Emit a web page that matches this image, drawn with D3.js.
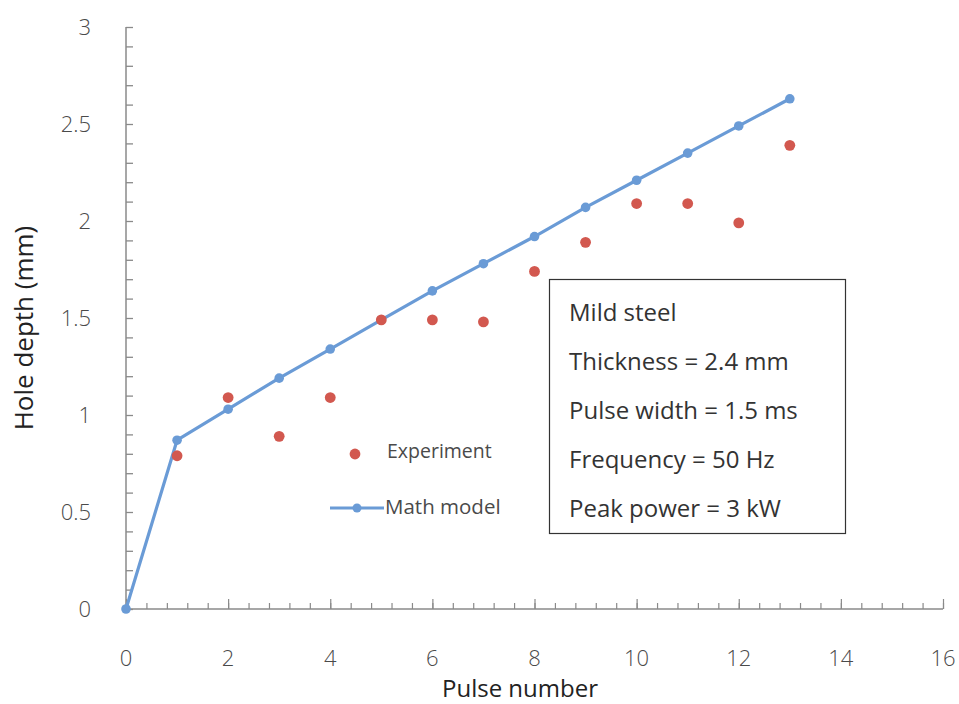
<!DOCTYPE html>
<html>
<head>
<meta charset="utf-8">
<script src="https://cdn.jsdelivr.net/npm/d3@7"></script>
<style>
  html, body { margin: 0; padding: 0; background: #fff; }
  svg { display: block; }
  text { font-family: "Open Sans", "Noto Sans", sans-serif; }
</style>
</head>
<body>
<svg id="chart" width="959" height="704"></svg>
<script>
// Pulse number vs. hole depth (mm)
const pulses      = [0, 1, 2, 3, 4, 5, 6, 7, 8, 9, 10, 11, 12, 13];
const modelDepth  = [0, 0.87, 1.03, 1.19, 1.34, 1.49, 1.64, 1.78, 1.92, 2.07, 2.21, 2.35, 2.49, 2.63];
const expPulses   = [1, 2, 3, 4, 5, 6, 7, 8, 9, 10, 11, 12, 13];
const expDepth    = [0.79, 1.09, 0.89, 1.09, 1.49, 1.49, 1.48, 1.74, 1.89, 2.09, 2.09, 1.99, 2.39];
const xTickValues = [0, 2, 4, 6, 8, 10, 12, 14, 16];
const yTickValues = [0, 0.5, 1, 1.5, 2, 2.5, 3];
const infoLines   = ["Mild steel", "Thickness = 2.4 mm", "Pulse width = 1.5 ms", "Frequency = 50 Hz", "Peak power = 3 kW"];
const legendNames = ["Experiment", "Math model"];

const svg = d3.select("#chart");
const plotLeft = 126, plotRight = 943, plotTop = 27, plotBottom = 609;

const x = d3.scaleLinear().domain([0, 16]).range([plotLeft, plotRight]);
const y = d3.scaleLinear().domain([0, 3]).range([plotBottom, plotTop]);

const axisColor = "#8a8a8a";
const labelColor = "#4a4a4a";
const blue = "#6a9bd6";
const red = "#d2584f";

// Y axis: line with inward minor ticks every 0.1
const yAxis = d3.axisRight(y)
  .tickValues(d3.range(0, 3.0001, 0.1))
  .tickSize(7)
  .tickFormat("");
const gy = svg.append("g").attr("transform", `translate(${plotLeft},0)`).call(yAxis);
gy.select(".domain").attr("stroke", axisColor).attr("stroke-width", 1.5).attr("d", `M0,${plotTop}V${plotBottom}`);
gy.selectAll(".tick line").attr("stroke", axisColor).attr("stroke-width", 1.3);

// Y tick labels
svg.append("g").selectAll("text").data(yTickValues).join("text")
  .attr("x", 91).attr("y", d => y(d)).attr("dy", "0.35em")
  .attr("text-anchor", "end").attr("font-size", 22).attr("font-weight", 300).attr("fill", labelColor)
  .text(d => d3.format("")(d));

// X axis: upward ticks, minor every 0.4, major every 2
const xMinor = d3.axisTop(x).tickValues(d3.range(0, 16.0001, 0.4)).tickSize(6).tickFormat("");
const gxm = svg.append("g").attr("transform", `translate(0,${plotBottom})`).call(xMinor);
gxm.select(".domain").attr("stroke", axisColor).attr("stroke-width", 1.5).attr("d", `M${plotLeft},0H${plotRight}`);
gxm.selectAll(".tick line").attr("stroke", axisColor).attr("stroke-width", 1.2);

const xMajor = d3.axisTop(x).tickValues(xTickValues).tickSize(10).tickFormat("");
const gxM = svg.append("g").attr("transform", `translate(0,${plotBottom})`).call(xMajor);
gxM.select(".domain").remove();
gxM.selectAll(".tick line").attr("stroke", axisColor).attr("stroke-width", 1.2);

// X tick labels
svg.append("g").selectAll("text").data(xTickValues).join("text")
  .attr("x", d => x(d)).attr("y", 666)
  .attr("text-anchor", "middle").attr("font-size", 22).attr("font-weight", 300).attr("fill", labelColor)
  .text(d => d);

// Axis titles
svg.append("text")
  .attr("transform", `translate(33,${(plotTop + plotBottom) / 2 + 10}) rotate(-90)`)
  .attr("text-anchor", "middle").attr("font-size", 26).attr("fill", "#222")
  .text("Hole depth (mm)");
svg.append("text")
  .attr("x", 520).attr("y", 697)
  .attr("text-anchor", "middle").attr("font-size", 24).attr("fill", "#222")
  .text("Pulse number");

// Math model line
const model = pulses.map((p, i) => ({ p, v: modelDepth[i] }));
svg.append("path").datum(model)
  .attr("fill", "none").attr("stroke", blue).attr("stroke-width", 3.2)
  .attr("stroke-linejoin", "round")
  .attr("d", d3.line().x(d => x(d.p)).y(d => y(d.v)));
svg.append("g").selectAll("circle").data(model).join("circle")
  .attr("cx", d => x(d.p)).attr("cy", d => y(d.v)).attr("r", 4.8).attr("fill", blue);

// Experiment points
const exp = expPulses.map((p, i) => ({ p, v: expDepth[i] }));
svg.append("g").selectAll("circle").data(exp).join("circle")
  .attr("cx", d => x(d.p)).attr("cy", d => y(d.v)).attr("r", 5.4).attr("fill", red);

// Legend
const lg = svg.append("g");
lg.append("circle").attr("cx", 355).attr("cy", 454).attr("r", 5.4).attr("fill", red);
lg.append("text").attr("x", 387).attr("y", 458).attr("font-size", 19.5).attr("fill", labelColor).text(legendNames[0]);
lg.append("line").attr("x1", 330).attr("x2", 384).attr("y1", 508).attr("y2", 508)
  .attr("stroke", blue).attr("stroke-width", 3);
lg.append("circle").attr("cx", 357).attr("cy", 508).attr("r", 4.5).attr("fill", blue);
lg.append("text").attr("x", 385).attr("y", 514).attr("font-size", 20.5).attr("fill", labelColor).text(legendNames[1]);

// Info box
const box = svg.append("g");
box.append("rect").attr("x", 549.5).attr("y", 279.5).attr("width", 296).attr("height", 254)
  .attr("fill", "#fff").attr("stroke", "#333").attr("stroke-width", 1.2);
box.selectAll("text").data(infoLines).join("text")
  .attr("x", 569).attr("y", (d, i) => 321 + i * 49)
  .attr("font-size", 24).attr("fill", "#333")
  .text(d => d);
</script>
</body>
</html>
